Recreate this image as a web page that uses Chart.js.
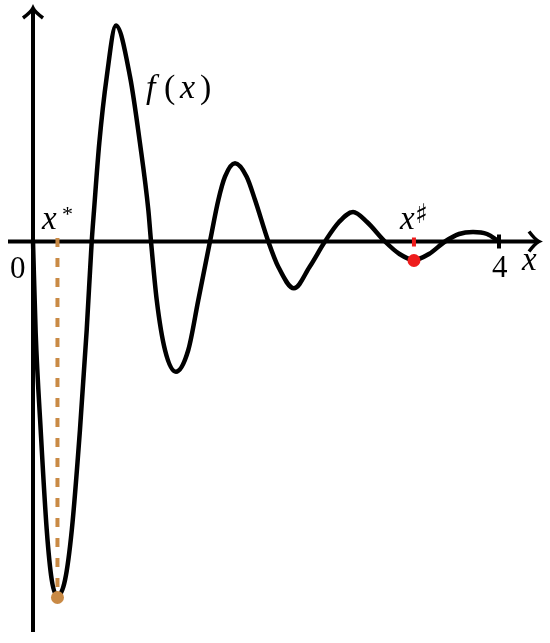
<!DOCTYPE html>
<html>
<head>
<meta charset="utf-8">
<script src="https://cdn.jsdelivr.net/npm/chart.js@4"></script>
<style>
  body { margin: 0; background: #fff; }
</style>
</head>
<body>
<canvas id="fChart" width="550" height="643"></canvas>
<script>
// f(x)
const curveX = [0, 0.023, 0.066, 0.118, 0.161, 0.21, 0.275, 0.333, 0.403, 0.461, 0.504,
  0.524, 0.569, 0.633, 0.712, 0.833, 0.918, 0.990, 1.013,
  1.062, 1.133, 1.227, 1.333, 1.419, 1.519,
  1.591, 1.648, 1.734, 1.834, 1.906, 2.02,
  2.105, 2.240, 2.375, 2.506,
  2.627, 2.747, 2.867, 3.021,
  3.146, 3.27, 3.399, 3.537,
  3.657, 3.777, 3.897, 4];
const curveY = [0, -0.915, -1.885, -2.885, -3.385, -3.545, -3.385, -2.885, -1.885, -0.885, 0,
  0.315, 0.985, 1.648, 2.16, 1.648, 0.985, 0.315, 0,
  -0.585, -1.085, -1.302, -1.085, -0.585, 0,
  0.415, 0.648, 0.782, 0.648, 0.415, 0,
  -0.252, -0.468, -0.252, 0,
  0.195, 0.295, 0.195, 0,
  -0.125, -0.185, -0.125, 0,
  0.075, 0.095, 0.075, 0];

const starX = [0.21];
const starY = [-3.56];
const sharpX = [3.27];
const sharpY = [-0.19];

const orange = "#c98a45";
const red = "#ee1c1c";
const serif = "'Liberation Serif', 'DejaVu Serif', serif";

const curveData = curveX.map((x, i) => ({x: x, y: curveY[i]}));

function drawChevron(ctx, tipX, tipY, dir) {
  ctx.beginPath();
  if (dir == "right") {
    ctx.moveTo(tipX - 10, tipY - 10);
    ctx.quadraticCurveTo(tipX - 4, tipY - 2, tipX, tipY);
    ctx.quadraticCurveTo(tipX - 4, tipY + 2, tipX - 10, tipY + 10);
  } else {
    ctx.moveTo(tipX - 10, tipY + 10);
    ctx.quadraticCurveTo(tipX - 2, tipY + 4, tipX, tipY);
    ctx.quadraticCurveTo(tipX + 2, tipY + 4, tipX + 10, tipY + 10);
  }
  ctx.stroke();
}

const axesPlugin = {
  id: "axes",
  beforeDatasetsDraw(chart) {
    const ctx = chart.ctx;
    const x0 = chart.scales.x.getPixelForValue(0);
    const y0 = chart.scales.y.getPixelForValue(0);
    const x4 = chart.scales.x.getPixelForValue(4);
    ctx.save();
    ctx.strokeStyle = "#000";
    ctx.lineWidth = 4;
    ctx.lineCap = "butt";
    ctx.beginPath();
    ctx.moveTo(8, y0);
    ctx.lineTo(537, y0);
    ctx.stroke();
    ctx.beginPath();
    ctx.moveTo(x0, 632);
    ctx.lineTo(x0, 9);
    ctx.stroke();
    ctx.lineWidth = 3.5;
    drawChevron(ctx, 539, y0, "right");
    drawChevron(ctx, x0, 8, "up");
    // tick at 4
    ctx.lineWidth = 4;
    ctx.beginPath();
    ctx.moveTo(x4, y0 - 7);
    ctx.lineTo(x4, y0 + 7);
    ctx.stroke();
    ctx.restore();
  },
  afterDraw(chart) {
    const ctx = chart.ctx;
    ctx.save();
    ctx.fillStyle = "#000";
    ctx.textBaseline = "alphabetic";
    ctx.textAlign = "left";
    ctx.font = "31px " + serif;
    ctx.fillText("0", 10, 278);
    ctx.fillText("4", 492, 277);
    ctx.font = "italic 33px " + serif;
    ctx.fillText("x", 522, 270);
    // x*
    ctx.fillText("x", 42, 229);
    ctx.font = "22px " + serif;
    ctx.fillText("*", 62, 221);
    // x sharp
    ctx.font = "italic 33px " + serif;
    ctx.fillText("x", 400, 229);
    ctx.font = "27px 'DejaVu Sans'";
    ctx.fillText("\u266F", 415, 223);
    // f(x)
    ctx.font = "italic 34px " + serif;
    ctx.fillText("f", 146, 98);
    ctx.font = "34px " + serif;
    ctx.fillText("(", 164, 98);
    ctx.font = "italic 34px " + serif;
    ctx.fillText("x", 180, 98);
    ctx.font = "34px " + serif;
    ctx.fillText(")", 200, 98);
    ctx.restore();
  }
};

new Chart("fChart", {
  type: "line",
  data: {
    datasets: [
      {
        label: "x*",
        data: [{x: starX[0], y: starY[0]}],
        showLine: false,
        pointRadius: 6.5,
        pointBackgroundColor: orange,
        pointBorderWidth: 0
      },
      {
        label: "x#",
        data: [{x: sharpX[0], y: sharpY[0]}],
        showLine: false,
        pointRadius: 6.5,
        pointBackgroundColor: red,
        pointBorderWidth: 0
      },
      {
        label: "f(x)",
        data: curveData,
        borderColor: "#000",
        borderWidth: 4.5,
        pointRadius: 0,
        cubicInterpolationMode: "monotone",
        fill: false
      },
      {
        label: "x* drop",
        data: [{x: starX[0], y: 0.035}, {x: starX[0], y: starY[0]}],
        borderColor: orange,
        borderWidth: 4,
        borderDash: [9, 11],
        pointRadius: 0
      },
      {
        label: "x# drop",
        data: [{x: sharpX[0], y: 0.04}, {x: sharpX[0], y: sharpY[0]}],
        borderColor: red,
        borderWidth: 4,
        borderDash: [9, 11],
        pointRadius: 0
      }
    ]
  },
  options: {
    responsive: false,
    animation: false,
    clip: false,
    layout: { autoPadding: false, padding: { left: 33, right: 51, top: 0, bottom: 0 } },
    scales: {
      x: { type: "linear", min: 0, max: 4, display: false },
      y: { min: -4.015, max: 2.415, display: false }
    },
    plugins: {
      legend: { display: false },
      tooltip: { enabled: false }
    }
  },
  plugins: [axesPlugin]
});
</script>
</body>
</html>
